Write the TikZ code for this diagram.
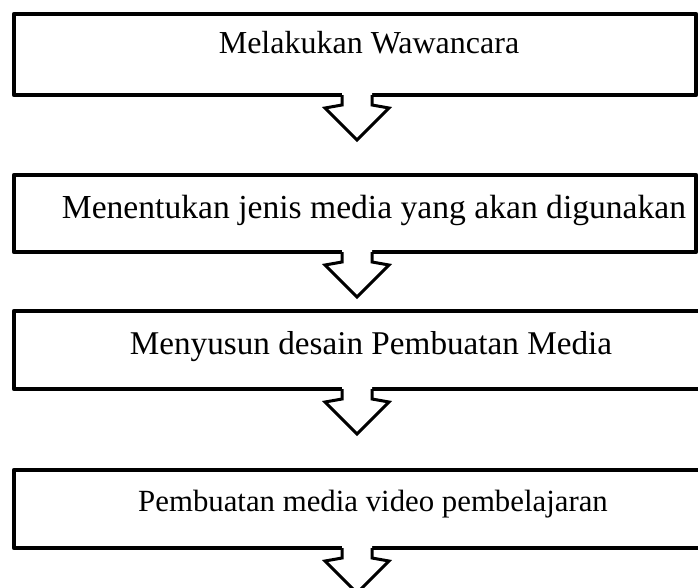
\documentclass[tikz,border=0pt]{standalone}
\usepackage{fontspec}
\setmainfont{Liberation Serif}
\begin{document}
\begin{tikzpicture}[x=1pt,y=-1pt,
  box/.style={draw=black,line width=4.5pt,line join=round,rectangle,inner sep=0pt,outer sep=0pt,anchor=north west},
  label/.style={anchor=base,inner sep=0pt},
  arrowline/.style={draw=black,line width=3pt,line join=miter},
  blockarrow/.pic={
    \fill[white] (-15,-3) -- (-15,10) -- (-32,13) -- (0,45) -- (32,13) -- (15,10) -- (15,-3) -- cycle;
    \draw[arrowline] (-15,0) -- (-15,10) -- (-32,13) -- (0,45) -- (32,13) -- (15,10) -- (15,0);
  }]
\useasboundingbox (0,0) rectangle (698,587);
\clip (0,0) rectangle (698,587);
\coordinate (ax) at (357,0);
\node[box,minimum width=682pt,minimum height=81pt] (b1) at (14,14) {};
\node[box,minimum width=682pt,minimum height=77pt] (b2) at (14,175) {};
\node[box,minimum width=720pt,minimum height=78pt] (b3) at (14,311) {};
\node[box,minimum width=720pt,minimum height=78pt] (b4) at (14,470) {};
\node[label,font=\fontsize{32}{38}\selectfont] (t1) at (369,53) {Melakukan Wawancara};
\node[label,font=\fontsize{33.6}{40}\selectfont] (t2) at (374,218) {Menentukan jenis media yang akan digunakan};
\node[label,font=\fontsize{33.2}{40}\selectfont] (t3) at (371,354) {Menyusun desain Pembuatan Media};
\node[label,font=\fontsize{30.8}{37}\selectfont] (t4) at (373,511) {Pembuatan media video pembelajaran};
\pic at (b1.south -| ax) {blockarrow};
\pic at (b2.south -| ax) {blockarrow};
\pic at (b3.south -| ax) {blockarrow};
\pic at (b4.south -| ax) {blockarrow};
\end{tikzpicture}
\end{document}
